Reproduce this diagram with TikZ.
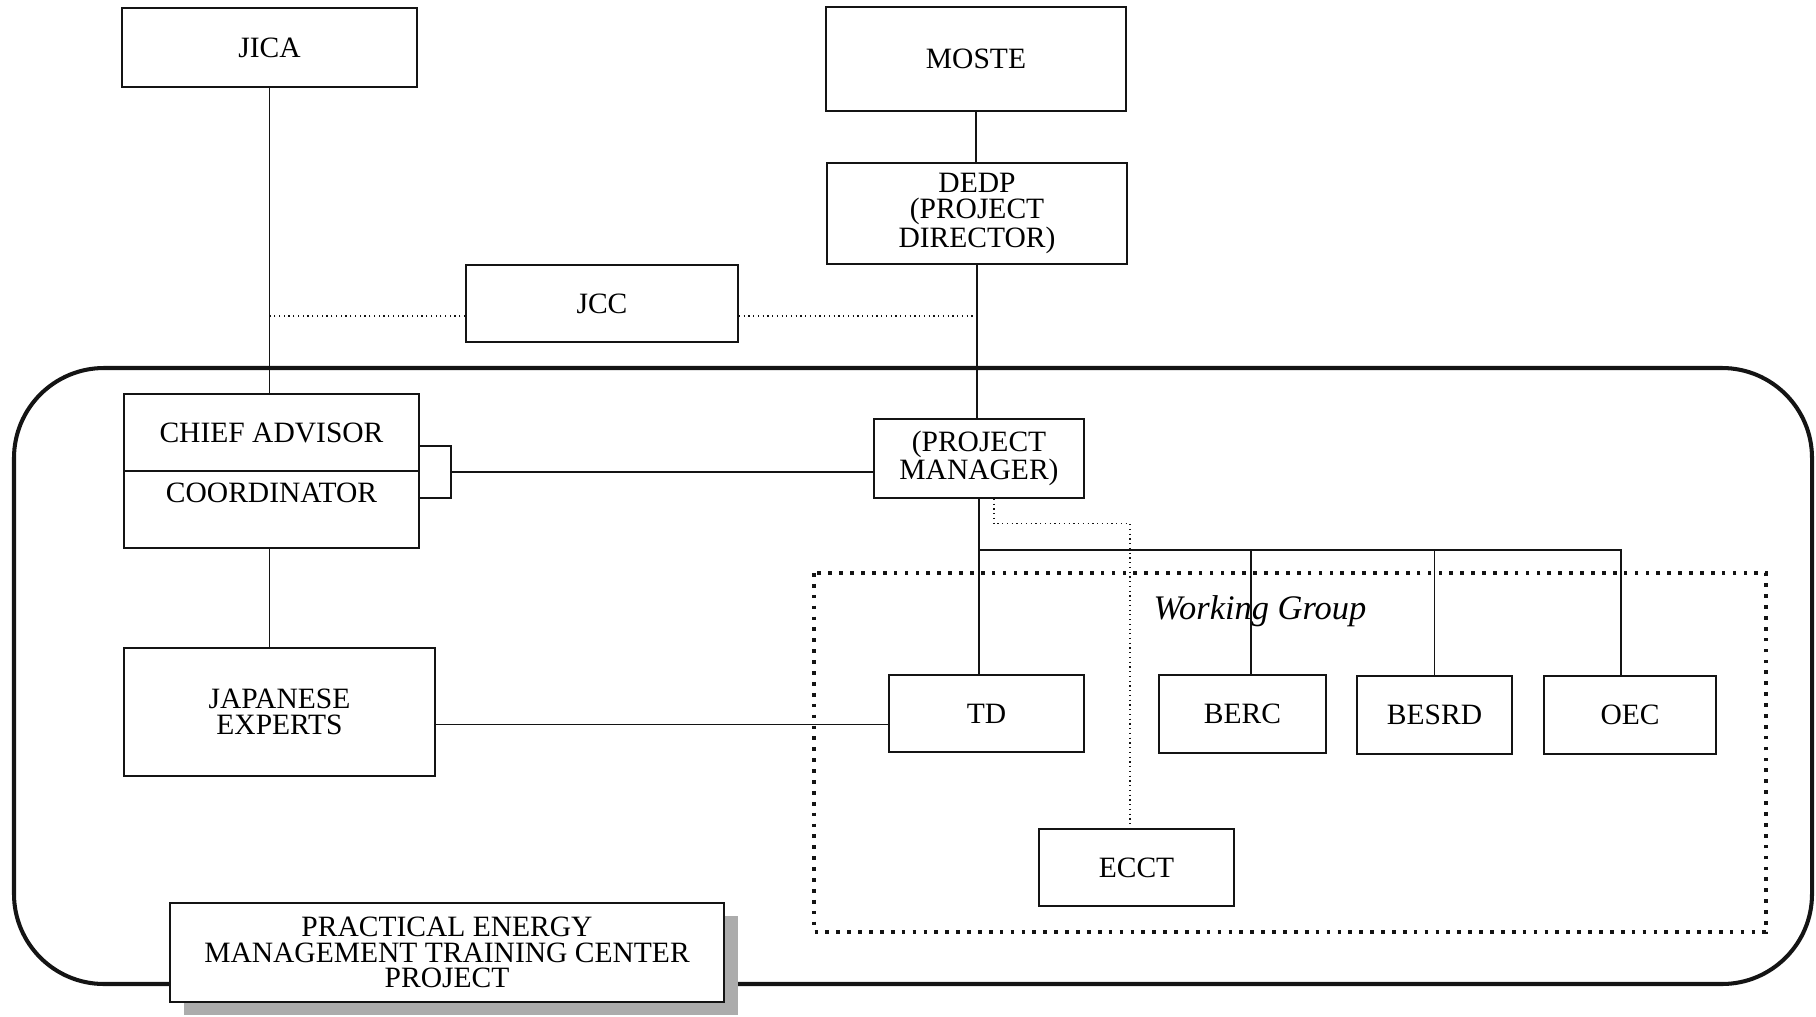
\documentclass[tikz,border=0pt]{standalone}
\usepackage{fontspec}
\setmainfont{Liberation Serif}
\usetikzlibrary{calc,shadows}
\definecolor{ink}{RGB}{20,20,20}
\tikzset{
  box/.style={draw=ink,line width=0.9pt,fill=white,minimum width=#1,minimum height=1.54cm,
    align=center,inner sep=0pt,font=\fontsize{16.8}{14.6}\selectfont},
  box/.default=3.9cm,
  wire/.style={draw=ink,line width=0.9pt},
  link/.style={draw=ink,line width=0.7pt,dotted},
  group/.style={draw=ink,line width=2.1pt,dash pattern=on 2.1pt off 4.1pt},
  frame/.style={draw=ink,line width=2.3pt,rounded corners=1.8cm},
}
\begin{document}
\begin{tikzpicture}
  \useasboundingbox (0,0) rectangle (36.32,-20.32);
  % project frame and working group
  \draw[frame] (0.28,-7.36) rectangle (36.24,-19.68);
  \draw[group] (16.28,-11.46) rectangle (35.32,-18.64);
  \node[font=\fontsize{19.6}{20}\selectfont\itshape] (wg) at (25.2,-12.22) {Working Group};
  % upper part
  \node[box=5.9cm,minimum height=1.58cm] (jica) at (5.39,-0.95) {JICA};
  \node[box=6cm,minimum height=2.08cm] (moste) at (19.52,-1.18) {MOSTE};
  \node[box=6cm,minimum height=2.02cm] (dedp) at (19.54,-4.27) {DEDP\\(PROJECT\\DIRECTOR)};
  \node[box=5.44cm] (jcc) at (12.04,-6.07) {JCC};
  % inside the project
  \node[box=5.9cm] (chief) at (5.43,-8.65) {CHIEF ADVISOR};
  \node[box=5.9cm,text height=0.62cm,text depth=0.92cm] (coord) at (5.43,-10.19) {COORDINATOR};
  \node[box=4.2cm,minimum height=1.58cm] (pm) at (19.58,-9.17) {(PROJECT\\MANAGER)};
  \node[box=6.22cm,minimum height=2.56cm] (jap) at (5.59,-14.24) {JAPANESE\\EXPERTS};
  \node[box=3.9cm] (td) at (19.73,-14.27) {TD};
  \node[box=3.34cm,minimum height=1.56cm] (berc) at (24.85,-14.28) {BERC};
  \node[box=3.1cm,minimum height=1.56cm] (besrd) at (28.69,-14.3) {BESRD};
  \node[box=3.44cm,minimum height=1.56cm] (oec) at (32.6,-14.3) {OEC};
  \node[box=3.9cm] (ecct) at (22.73,-17.35) {ECCT};
  \node[box=11.08cm,minimum height=1.98cm,
    drop shadow={shadow xshift=0.28cm,shadow yshift=-0.26cm,fill=gray!65,opacity=1}]
    (petc) at (8.94,-19.05) {PRACTICAL ENERGY\\MANAGEMENT TRAINING CENTER\\PROJECT};
  % connectors
  \draw[wire] (jica.south) -- (jica.south |- chief.north);
  \draw[wire] (moste.south) -- (moste.south |- dedp.north);
  \draw[wire] (dedp.south) -- (dedp.south |- pm.north);
  \coordinate (jccL) at ([yshift=-2.5mm]jcc.west);
  \coordinate (jccR) at ([yshift=-2.5mm]jcc.east);
  \draw[link] (jccL) -- (jccL -| jica.south);
  \draw[link] (jccR) -- (jccR -| dedp.south);
  \draw[wire] ([yshift=-2.7mm]chief.east) -- ++(0.62,0) |- ([yshift=2.3mm]coord.east);
  \draw[wire] ($(chief.south east)+(0.62,0)$) -- (pm.west |- chief.south);
  \draw[wire] (jica.south |- coord.south) -- (jica.south |- jap.north);
  \draw[wire] ([yshift=-2.5mm]jap.east) -- ([yshift=-2.5mm]jap.east -| td.west);
  \draw[wire] (pm.south) -- (pm.south |- td.north);
  \coordinate (bus) at ($(pm.south)+(0,-1.02)$);
  \foreach \n/\dx in {berc/0.17,besrd/0,oec/-0.18}
    \draw[wire] (bus) -| ([xshift=\dx cm]\n.north);
  \draw[link] ([xshift=3mm]pm.south) -- ++(0,-0.5) -| ([xshift=-1.3mm]ecct.north);
\end{tikzpicture}
\end{document}
